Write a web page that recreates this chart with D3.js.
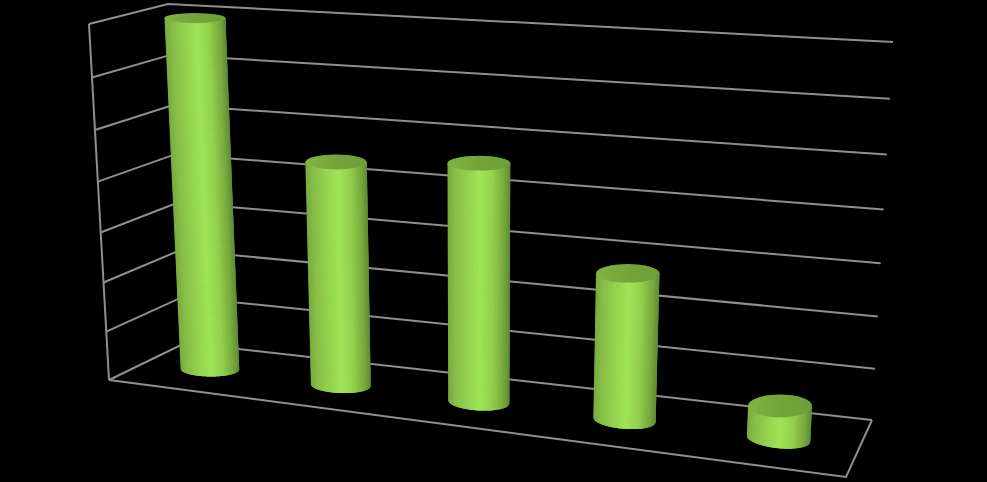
<!DOCTYPE html>
<html><head><meta charset="utf-8">
<script src="https://cdn.jsdelivr.net/npm/d3@7"></script>
<style>html,body{margin:0;padding:0;background:#000;overflow:hidden}svg{display:block}</style>
</head><body><svg id="c" width="987" height="482"></svg>
<script>
const categories = ["1","2","3","4","5"];
const values = [7, 4.45, 4.65, 2.83, 0.63];
const gridTicks = [0,1,2,3,4,5,6,7];
const valueMax = 7;

const svg = d3.select("#c");
const W = 987, H = 482;
svg.append("rect").attr("width",W).attr("height",H).attr("fill","#000");

// Box corners of the 3D plot: [front, back] x [bottom, top] x [left, right]
const box = {
  fbl:[109,380], fbr:[846,477], ftl:[89,24],  ftr:[868,77],
  bbl:[185,343], bbr:[872,420], btl:[168,4],  btr:[893,42]
};
const bandT = d3.scalePoint().domain(categories).range([0,1]).padding(0.5);
const persp = (u,r)=>u/(u+r*(1-u));
const xPersp = t=>persp(t,1.146);
const vScale = d3.scaleLinear().domain([0,valueMax]).range([0,1]);
const yPersp = v=>persp(vScale(v),1.06);
const lerp=(a,b,u)=>[a[0]+(b[0]-a[0])*u,a[1]+(b[1]-a[1])*u];
function project(t,v,d){
  const f=xPersp(t), g=yPersp(v);
  const fb=lerp(box.fbl,box.fbr,f), ft=lerp(box.ftl,box.ftr,f);
  const bb=lerp(box.bbl,box.bbr,f), bt=lerp(box.btl,box.btr,f);
  return lerp(lerp(fb,ft,g),lerp(bb,bt,g),d);
}
const line=d3.line();
const gridColor="#8f8f8f", gw=2;
const grid=svg.append("g").attr("fill","none").attr("stroke",gridColor).attr("stroke-width",gw).attr("stroke-linejoin","miter");
gridTicks.forEach(v=>{
  grid.append("path").attr("d",line([project(0,v,0),project(0,v,1),project(1,v,1)]));
});
grid.append("path").attr("d",line([project(0,valueMax,0),project(0,0,0)]));
grid.append("path").attr("d",line([project(0,0,0),project(1,0,0),project(1,0,1)]));

// cylinder shading
const shade=d3.scaleLinear()
  .domain([-1,-0.75,-0.3,0.05,0.45,0.8,1])
  .range(["#78aa40","#88bf48","#96d550","#a0e458","#93d04e","#78aa3e","#5f8b36"])
  .interpolate(d3.interpolateRgb);
const defs=svg.append("defs");
const cg=defs.append("linearGradient").attr("id","cap");
[[0,"#7fb442"],[0.5,"#73a43a"],[1,"#6e9e39"]].forEach(s=>cg.append("stop").attr("offset",s[0]).attr("stop-color",s[1]));

const rxScale=d3.scaleLinear().domain([0,1]).range([29,32.2]);
const rxTop=d3.scaleLinear().domain([0,1]).range([1,1.04]);
const capRy=d3.scaleLinear().domain([18,406]).range([5,11.5]);
const tilt=d3.scaleLinear().domain([0,1]).range([0,6.5]);
const baseRyScale=d3.scaleLinear().domain([0,1]).range([7,9.8]);
const N=120;

const bars=svg.append("g");
categories.forEach((c,i)=>{
  const t=bandT(c), v=values[i];
  const b=project(t,0,0.5), a=project(t,v,0.5);
  const rb=rxScale(t), rt=rb*rxTop(vScale(v));
  const ryT=capRy(a[1]), th=tilt(t)*Math.PI/180, baseRy=baseRyScale(t);
  const g=bars.append("g");
  const pt=(s)=>{
    const lift=Math.sqrt(Math.max(0,1-s*s));
    const dx=s*rb, dy=baseRy*lift;
    return [[a[0]+s*rt,a[1]],[b[0]+dx*Math.cos(th)-dy*Math.sin(th),b[1]+dx*Math.sin(th)+dy*Math.cos(th)]];
  };
  d3.range(N).forEach(k=>{
    const s0=-1+2*k/N, s1=Math.min(1,-1+2*(k+2.5)/N);
    const p0=pt(s0),p1=pt(s1);
    g.append("path").attr("d",line([p0[0],p1[0],p1[1],p0[1]])+"Z").attr("fill",shade(-1+2*(k+.5)/N));
  });
  g.append("ellipse").attr("cx",a[0]).attr("cy",a[1]).attr("rx",rt).attr("ry",ryT).attr("fill","url(#cap)");
});
</script></body></html>
